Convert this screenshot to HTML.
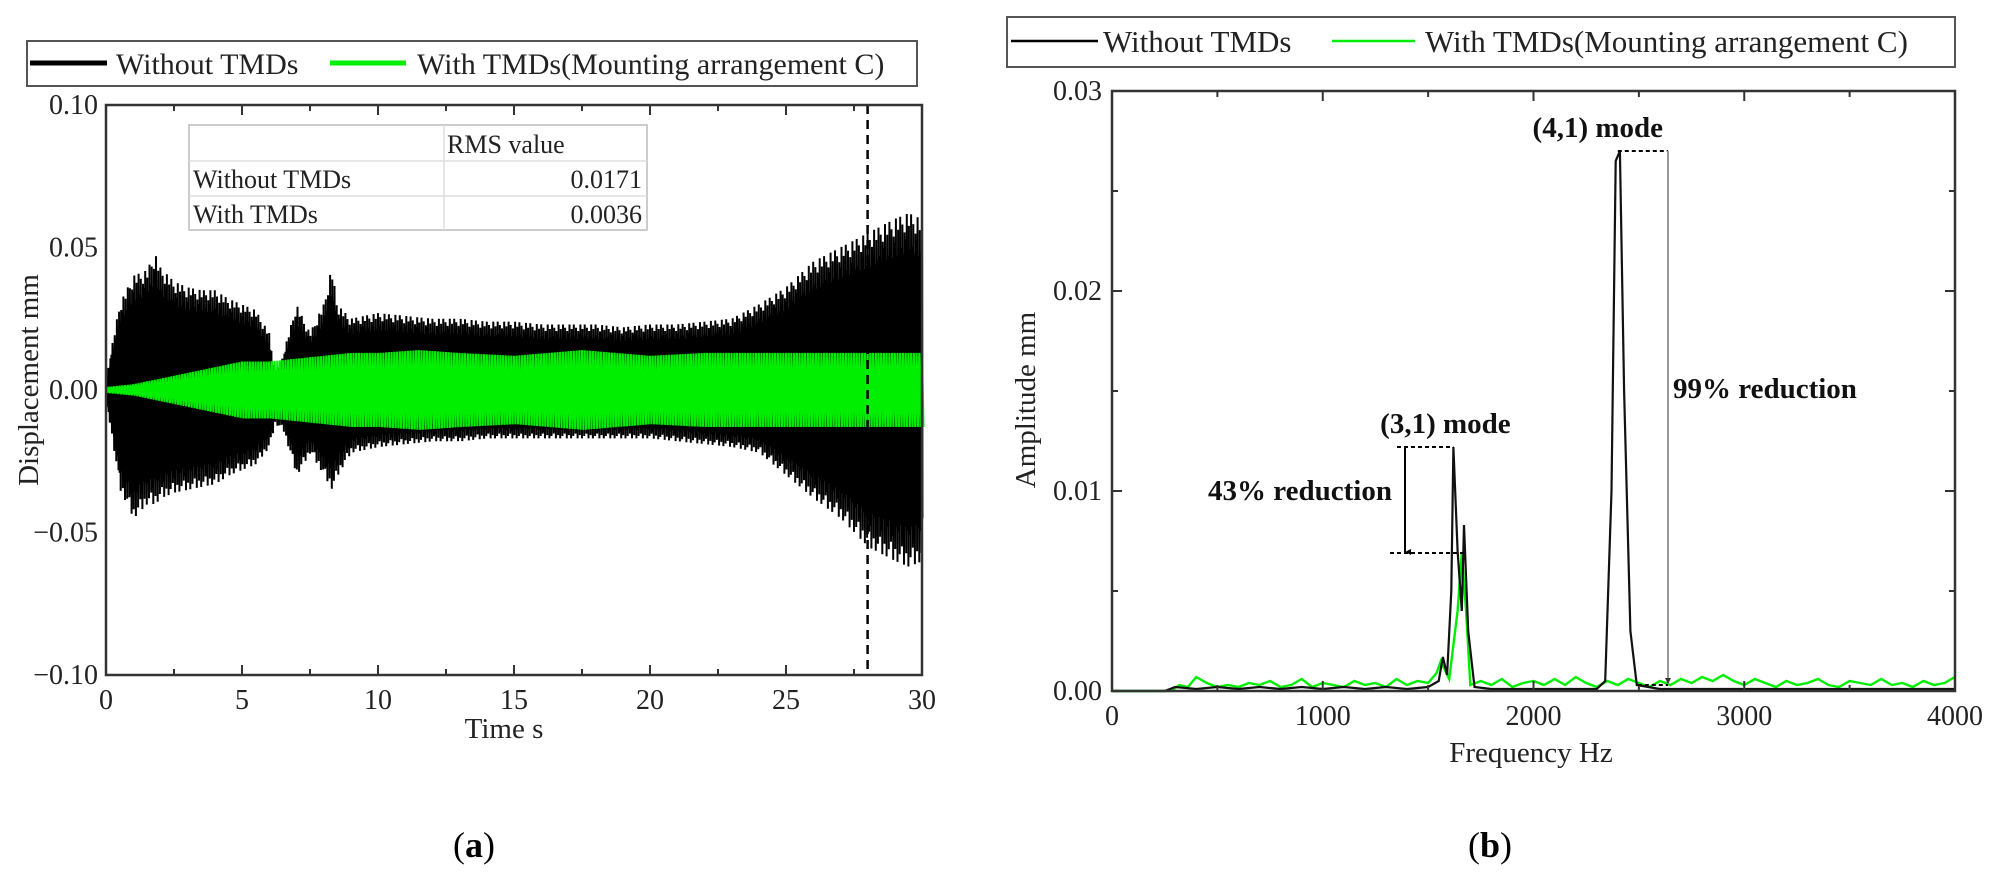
<!DOCTYPE html>
<html><head><meta charset="utf-8">
<style>
html,body{margin:0;padding:0;background:#fff;}
svg{display:block;font-family:"Liberation Serif",serif;}
</style></head>
<body>
<svg id="fig" width="2000" height="881" viewBox="0 0 2000 881" xmlns="http://www.w3.org/2000/svg">
  <g id="left"></g>
  <g id="right"></g>
</svg>
<script>
// ---------- Panel (a) data ----------
const timeT = [0,0.5,1,1.5,1.8,2,2.5,3,3.5,4,4.5,5,5.5,6,6.2,6.5,7,7.5,8,8.3,8.5,9,10,11,12,13,14,15,16,17,18,19,20,21,22,23,24,25,26,27,28,29,29.5,30];
const upperNo = [0.004,0.03,0.04,0.042,0.048,0.043,0.038,0.036,0.035,0.035,0.032,0.03,0.028,0.02,0.006,0.012,0.03,0.02,0.03,0.043,0.03,0.025,0.027,0.026,0.025,0.025,0.024,0.024,0.023,0.023,0.023,0.022,0.023,0.023,0.024,0.025,0.03,0.036,0.045,0.05,0.055,0.06,0.062,0.06];
const lowerNo = [-0.004,-0.035,-0.045,-0.04,-0.04,-0.038,-0.036,-0.035,-0.034,-0.033,-0.03,-0.028,-0.026,-0.02,-0.012,-0.014,-0.03,-0.022,-0.03,-0.035,-0.03,-0.022,-0.02,-0.019,-0.018,-0.018,-0.017,-0.017,-0.017,-0.017,-0.017,-0.017,-0.017,-0.018,-0.019,-0.02,-0.022,-0.03,-0.038,-0.045,-0.055,-0.06,-0.062,-0.06];
const greenT = [0,1,2,3,4,5,6,7,8,9,10,11.5,13,15,17.5,20,22,25,28,30];
const greenAmp = [0.001,0.002,0.004,0.006,0.008,0.01,0.01,0.011,0.012,0.013,0.013,0.014,0.013,0.012,0.014,0.012,0.013,0.013,0.013,0.013];
const timeTicks = [0,5,10,15,20,25,30];
const dispTicks = [0.10,0.05,0.00,-0.05,-0.10];
const dispTickLabels = ["0.10","0.05","0.00","\u22120.05","\u22120.10"];
const markerTime = 28;
const rmsRows = [["Without TMDs","0.0171"],["With TMDs","0.0036"]];

// ---------- Panel (b) data ----------
const freqBlack = [0,250,300,400,500,600,700,800,900,1000,1100,1200,1300,1400,1500,1550,1570,1590,1610,1620,1640,1660,1670,1690,1720,1800,1900,2000,2100,2200,2300,2340,2370,2390,2410,2430,2460,2490,2600,2800,3000,3200,3400,3600,3800,4000];
const ampBlack = [0,0,0.0002,0.0001,0.0002,0.0001,0.0002,0.0001,0.0002,0.0001,0.0002,0.0001,0.0002,0.0001,0.0002,0.0005,0.0017,0.0008,0.005,0.0122,0.007,0.004,0.0083,0.003,0.0002,0.0001,0.0001,0.0001,0.0001,0.0001,0.0001,0.0005,0.01,0.0265,0.027,0.015,0.003,0.0003,0.0001,0.0001,0.0001,0.0001,0.0001,0.0001,0.0001,0.0001];
const freqGreen = [0,280,320,360,400,450,500,550,600,650,700,750,800,850,900,950,1000,1050,1100,1150,1200,1250,1300,1350,1400,1450,1500,1540,1560,1600,1640,1660,1680,1700,1750,1800,1850,1900,1950,2000,2050,2100,2150,2200,2250,2300,2350,2400,2450,2500,2550,2600,2650,2700,2750,2800,2850,2900,2950,3000,3050,3100,3150,3200,3250,3300,3350,3400,3450,3500,3550,3600,3650,3700,3750,3800,3850,3900,3950,4000];
const ampGreen = [0,0,0.0003,0.0002,0.0007,0.0004,0.0002,0.0003,0.0002,0.0004,0.0003,0.0005,0.0002,0.0003,0.0006,0.0002,0.0004,0.0003,0.0002,0.0005,0.0003,0.0004,0.0002,0.0006,0.0003,0.0005,0.0004,0.0009,0.0015,0.0006,0.004,0.0069,0.004,0.0003,0.0005,0.0003,0.0006,0.0002,0.0004,0.0005,0.0003,0.0006,0.0003,0.0007,0.0004,0.0002,0.0005,0.0003,0.0006,0.0004,0.0002,0.0005,0.0003,0.0006,0.0004,0.0007,0.0005,0.0008,0.0005,0.0003,0.0006,0.0004,0.0002,0.0005,0.0003,0.0004,0.0006,0.0003,0.0002,0.0005,0.0004,0.0003,0.0006,0.0003,0.0004,0.0002,0.0005,0.0003,0.0004,0.0007];
const freqTicks = [0,1000,2000,3000,4000];
const ampTicks = [0.00,0.01,0.02,0.03];
const ampTickLabels = ["0.00","0.01","0.02","0.03"];
const peak31Freq = 1620, peak31Amp = 0.0122, reduced31Amp = 0.0069;
const peak41Freq = 2400, peak41Amp = 0.027, reduced41Amp = 0.0003;

const NS="http://www.w3.org/2000/svg";
function mk(parent, tag, attrs, text){
  const e=document.createElementNS(NS,tag);
  for(const k in attrs) e.setAttribute(k,attrs[k]);
  if(text!==undefined) e.textContent=text;
  parent.appendChild(e); return e;
}
function interp(xs, ys, x){
  if(x<=xs[0]) return ys[0];
  for(let i=1;i<xs.length;i++){ if(x<=xs[i]){const f=(x-xs[i-1])/(xs[i]-xs[i-1]);return ys[i-1]+f*(ys[i]-ys[i-1]);} }
  return ys[ys.length-1];
}

// ===== Panel (a) =====
const L=document.getElementById('left');
const ax={x0:106,x1:922,y0:105,y1:675};
const xA=t=>ax.x0+(t-0)/(30-0)*(ax.x1-ax.x0);
const yA=v=>ax.y0+(0.10-v)/(0.20)*(ax.y1-ax.y0);

const tex=[1,0.82,0.95,0.75,0.9,0.86,1,0.7,0.93,0.8];
{
  let d=""; let n=0;
  for(let t=0;t<=30.001;t+=0.04){
    const u=interp(timeT,upperNo,t), lo=interp(timeT,lowerNo,t);
    const f=tex[n%tex.length];
    d+=(n===0?"M":"L")+xA(t).toFixed(1)+","+yA(u*f).toFixed(1)+"L"+xA(t+0.02).toFixed(1)+","+yA(lo*tex[(n+3)%tex.length]).toFixed(1);
    n++;
  }
  const p=mk(L,'path',{d:d,fill:'none',stroke:'#000','stroke-width':2});
  
  
  let d2="";
  for(let i=0;i<timeT.length;i++) d2+=(i?"L":"M")+xA(timeT[i]).toFixed(1)+","+yA(upperNo[i]*0.78).toFixed(1);
  for(let i=timeT.length-1;i>=0;i--) d2+="L"+xA(timeT[i]).toFixed(1)+","+yA(lowerNo[i]*0.78).toFixed(1);
  const f=mk(L,'path',{d:d2+"Z",fill:'#000'});
  
  
}
{
  let d=""; let n=0;
  for(let t=0;t<=30.001;t+=0.1){
    const a=interp(greenT,greenAmp,t);
    d+=(n===0?"M":"L")+xA(t).toFixed(1)+","+yA(a).toFixed(1)+"L"+xA(t+0.05).toFixed(1)+","+yA(-a).toFixed(1);
    n++;
  }
  const p=mk(L,'path',{d:d,fill:'none',stroke:'#00ee00','stroke-width':2.2});
  
  
}
{
  const l=mk(L,'line',{x1:xA(markerTime),x2:xA(markerTime),y1:ax.y0,y2:ax.y1,stroke:'#000','stroke-width':2.5,'stroke-dasharray':'9,6'});
  
  
}
{
  const r=mk(L,'rect',{x:ax.x0,y:ax.y0,width:ax.x1-ax.x0,height:ax.y1-ax.y0,fill:'none',stroke:'#333','stroke-width':2.5});
  
  
}
for(let t=0;t<=30;t+=2.5){
  const len=(t%5===0)?10:6;
  mk(L,'line',{x1:xA(t),x2:xA(t),y1:ax.y1,y2:ax.y1-len,stroke:'#333','stroke-width':2});
  mk(L,'line',{x1:xA(t),x2:xA(t),y1:ax.y0,y2:ax.y0+len,stroke:'#333','stroke-width':2});
}
timeTicks.forEach(t=>{
  const e=mk(L,'text',{x:xA(t),y:yA(-0.10)+34,'font-size':28,'text-anchor':'middle',fill:'#222'},String(t));
  
  
});
dispTicks.forEach((v,i)=>{
  const e=mk(L,'text',{x:ax.x0-8,y:yA(v)+9,'font-size':28,'text-anchor':'end',fill:'#222'},dispTickLabels[i]);
  
  
});
{
  const e=mk(L,'text',{x:504,y:738,'font-size':29,'text-anchor':'middle',fill:'#222','xml:space':'preserve'},"Time  s");
  
  
  const g=mk(L,'text',{x:0,y:0,'font-size':29,'text-anchor':'middle',fill:'#222',transform:'translate(38,380) rotate(-90)','xml:space':'preserve'},"Displacement  mm");
  
  
}
{
  const lg=mk(L,'g',{});
  
  
  mk(lg,'rect',{x:27,y:41,width:890,height:45,fill:'#fff',stroke:'#555','stroke-width':2});
  mk(lg,'line',{x1:30,x2:107,y1:63,y2:63,stroke:'#000','stroke-width':5});
  const t1=mk(lg,'text',{x:116,y:74,'font-size':30,fill:'#222'},"Without TMDs");
  
  
  mk(lg,'line',{x1:330,x2:406,y1:63,y2:63,stroke:'#00ee00','stroke-width':5});
  const t2=mk(lg,'text',{x:417,y:74,'font-size':30,fill:'#222'},"With TMDs(Mounting arrangement C)");
  
  
}
{
  const tb=mk(L,'g',{});
  
  
  mk(tb,'rect',{x:189,y:125,width:458,height:105,fill:'#fff',stroke:'#bbb','stroke-width':1.5});
  mk(tb,'line',{x1:189,x2:647,y1:161,y2:161,stroke:'#ddd','stroke-width':1.5});
  mk(tb,'line',{x1:189,x2:647,y1:196,y2:196,stroke:'#ddd','stroke-width':1.5});
  mk(tb,'line',{x1:444,x2:444,y1:125,y2:230,stroke:'#ddd','stroke-width':1.5});
  mk(tb,'text',{x:447,y:153,'font-size':26,fill:'#222'},"RMS value");
  rmsRows.forEach((r,i)=>{
    const yy=188+i*35;
    mk(tb,'text',{x:193,y:yy,'font-size':26,fill:'#222'},r[0]);
    mk(tb,'text',{x:642,y:yy,'font-size':26,fill:'#222','text-anchor':'end'},r[1]);
  });
}
{
  const e=mk(L,'text',{x:474,y:857,'font-size':36,'text-anchor':'middle',fill:'#000'},"");
  e.innerHTML='(<tspan font-weight="bold">a</tspan>)';
  
  
}

// ===== Panel (b) =====
const R=document.getElementById('right');
const bx={x0:1112,x1:1955,y0:91,y1:691};
const xB=f=>bx.x0+f/4000*(bx.x1-bx.x0);
const yB=v=>bx.y1-v/0.03*(bx.y1-bx.y0);
{
  let d="";
  freqGreen.forEach((f,i)=>{d+=(i?"L":"M")+xB(f).toFixed(1)+","+yB(ampGreen[i]).toFixed(1);});
  const p=mk(R,'path',{d:d,fill:'none',stroke:'#00ee00','stroke-width':2.4});
  
  
  let d2="";
  freqBlack.forEach((f,i)=>{d2+=(i?"L":"M")+xB(f).toFixed(1)+","+yB(ampBlack[i]).toFixed(1);});
  const p2=mk(R,'path',{d:d2,fill:'none',stroke:'#111','stroke-width':2.2});
  
  
}
{
  const r=mk(R,'rect',{x:bx.x0,y:bx.y0,width:bx.x1-bx.x0,height:bx.y1-bx.y0,fill:'none',stroke:'#333','stroke-width':2.5});
  
  
}
for(let f=0;f<=4000;f+=500){
  const len=(f%1000===0)?10:6;
  mk(R,'line',{x1:xB(f),x2:xB(f),y1:bx.y1,y2:bx.y1-len,stroke:'#333','stroke-width':2});
  mk(R,'line',{x1:xB(f),x2:xB(f),y1:bx.y0,y2:bx.y0+len,stroke:'#333','stroke-width':2});
}
for(let k=0;k<=6;k++){
  const v=k*0.005, len=(k%2===0)?10:6;
  mk(R,'line',{x1:bx.x0,x2:bx.x0+len,y1:yB(v),y2:yB(v),stroke:'#333','stroke-width':2});
  mk(R,'line',{x1:bx.x1,x2:bx.x1-len,y1:yB(v),y2:yB(v),stroke:'#333','stroke-width':2});
}
freqTicks.forEach(f=>{
  const e=mk(R,'text',{x:xB(f),y:bx.y1+34,'font-size':28,'text-anchor':'middle',fill:'#222'},String(f));
  
  
});
ampTicks.forEach((v,i)=>{
  const e=mk(R,'text',{x:bx.x0-10,y:yB(v)+9,'font-size':28,'text-anchor':'end',fill:'#222'},ampTickLabels[i]);
  
  
});
{
  const e=mk(R,'text',{x:1531,y:762,'font-size':29,'text-anchor':'middle',fill:'#222','xml:space':'preserve'},"Frequency  Hz");
  
  
  const g=mk(R,'text',{x:0,y:0,'font-size':29,'text-anchor':'middle',fill:'#222',transform:'translate(1035,400) rotate(-90)','xml:space':'preserve'},"Amplitude  mm");
  
  
}
{
  const an=mk(R,'g',{});
  
  
  mk(an,'defs',{}).innerHTML='<marker id="ah" viewBox="0 0 10 10" refX="5" refY="10" markerWidth="6" markerHeight="10" orient="auto-start-reverse" markerUnits="userSpaceOnUse"><path d="M0,0 L10,0 L5,10 z" fill="#000"/></marker><marker id="ah2" viewBox="0 0 10 10" refX="5" refY="10" markerWidth="6" markerHeight="8" markerUnits="userSpaceOnUse"><path d="M0,0 L10,0 L5,10 z" fill="#333"/></marker>';
  const px41=xB(peak41Freq), arrX41=1668;
  mk(an,'line',{x1:px41,x2:arrX41,y1:yB(peak41Amp),y2:yB(peak41Amp),stroke:'#000','stroke-width':2,'stroke-dasharray':'4,3'});
  mk(an,'line',{x1:px41+20,x2:arrX41,y1:yB(reduced41Amp),y2:yB(reduced41Amp),stroke:'#000','stroke-width':2,'stroke-dasharray':'4,3'});
  mk(an,'line',{x1:arrX41,x2:arrX41,y1:yB(peak41Amp),y2:yB(reduced41Amp)-1,stroke:'#999','stroke-width':2,'marker-end':'url(#ah2)'});
  mk(an,'text',{x:px41-20,y:yB(peak41Amp)-14,'font-size':29,'font-weight':'bold','text-anchor':'middle',fill:'#111'},"(4,1) mode");
  mk(an,'text',{x:1673,y:398,'font-size':29,'font-weight':'bold',fill:'#111'},"99% reduction");
  const px31=xB(peak31Freq), arrX31=1405;
  mk(an,'line',{x1:arrX31-8,x2:px31,y1:yB(peak31Amp),y2:yB(peak31Amp),stroke:'#000','stroke-width':2,'stroke-dasharray':'4,3'});
  mk(an,'line',{x1:1390,x2:1466,y1:yB(reduced31Amp),y2:yB(reduced31Amp),stroke:'#000','stroke-width':2,'stroke-dasharray':'4,3'});
  mk(an,'line',{x1:arrX31,x2:arrX31,y1:yB(peak31Amp),y2:yB(reduced31Amp)-1,stroke:'#000','stroke-width':2,'marker-end':'url(#ah)'});
  mk(an,'text',{x:px31-8,y:yB(peak31Amp)-14,'font-size':29,'font-weight':'bold','text-anchor':'middle',fill:'#111'},"(3,1) mode");
  mk(an,'text',{x:1392,y:500,'font-size':29,'font-weight':'bold','text-anchor':'end',fill:'#111'},"43% reduction");
}
{
  const lg=mk(R,'g',{});
  
  
  mk(lg,'rect',{x:1007,y:17,width:948,height:50,fill:'#fff',stroke:'#555','stroke-width':2});
  mk(lg,'line',{x1:1011,x2:1098,y1:41,y2:41,stroke:'#000','stroke-width':2.5});
  const t1=mk(lg,'text',{x:1103,y:52,'font-size':31,fill:'#222'},"Without TMDs");
  
  
  mk(lg,'line',{x1:1332,x2:1415,y1:41,y2:41,stroke:'#00ee00','stroke-width':2.5});
  const t2=mk(lg,'text',{x:1425,y:52,'font-size':31,fill:'#222'},"With TMDs(Mounting arrangement C)");
  
  
}
{
  const e=mk(R,'text',{x:1490,y:857,'font-size':36,'text-anchor':'middle',fill:'#000'},"");
  e.innerHTML='(<tspan font-weight="bold">b</tspan>)';
  
  
}
</script>
</body></html>
